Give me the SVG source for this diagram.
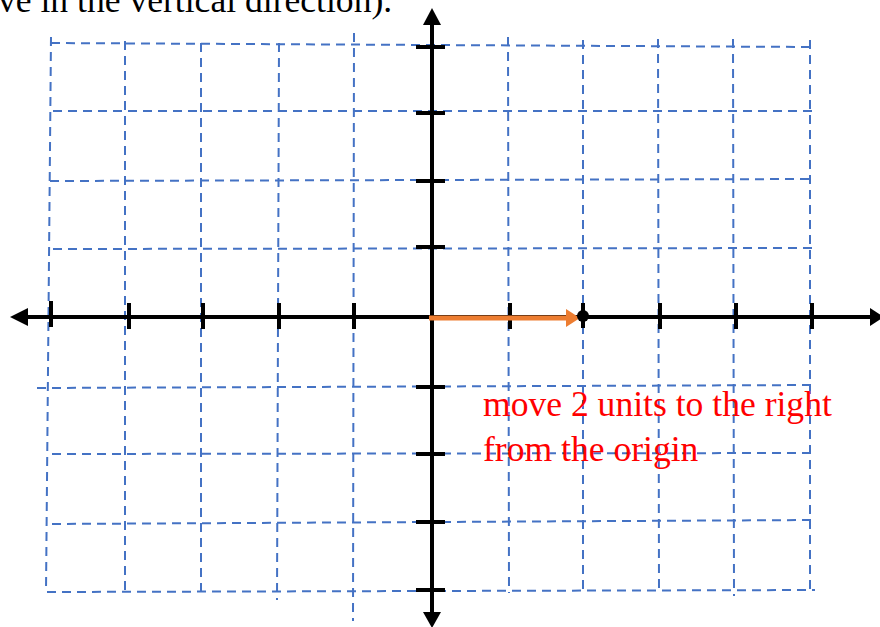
<svg xmlns="http://www.w3.org/2000/svg" width="880" height="627" viewBox="0 0 880 627">
<style>
.grid line{stroke:#4472C4;stroke-width:2;stroke-dasharray:9 6;fill:none}
.axis{stroke:#000;stroke-width:4;fill:none}
.tick{stroke:#000;stroke-width:4}
.head{fill:#000}
.serif{font-family:"Liberation Serif","Times New Roman",serif;font-size:35.6px}
</style>
<rect width="880" height="627" fill="#fff"/>
<text class="serif" x="-2" y="12" fill="#000">ve in the vertical direction).</text>
<g id="grid" class="grid">
<line x1="51" y1="37" x2="46" y2="592"/>
<line x1="125" y1="41" x2="125" y2="595"/>
<line x1="201" y1="43" x2="201" y2="598"/>
<line x1="279" y1="43" x2="277" y2="600"/>
<line x1="354" y1="33" x2="353" y2="621"/>
<line x1="508" y1="37" x2="509" y2="593"/>
<line x1="583" y1="40" x2="583" y2="594"/>
<line x1="658" y1="39" x2="659" y2="593"/>
<line x1="733" y1="39" x2="734" y2="596"/>
<line x1="810" y1="40" x2="810" y2="592"/>
<line x1="51" y1="43" x2="812" y2="47"/>
<line x1="53" y1="111" x2="812" y2="111"/>
<line x1="50" y1="181" x2="812" y2="179"/>
<line x1="53" y1="249" x2="815" y2="248"/>
<line x1="37" y1="388" x2="815" y2="385"/>
<line x1="52" y1="454" x2="815" y2="453"/>
<line x1="52" y1="524" x2="815" y2="520"/>
<line x1="47" y1="592" x2="815" y2="590"/>
</g>
<g id="axes">
<line class="axis" x1="22" y1="317" x2="874" y2="317"/>
<polygon class="head" points="10,317 28,308 28,326"/>
<polygon class="head" points="884,317 870,308 870,326"/>
<line class="axis" x1="432" y1="20" x2="432" y2="616"/>
<polygon class="head" points="432,8 423,25 441,25"/>
<polygon class="head" points="432,628 423,612 441,612"/>
</g>
<g id="xticks" class="tick">
<line x1="51" y1="301" x2="51" y2="327"/>
<line x1="129" y1="303" x2="129" y2="329"/>
<line x1="203" y1="303" x2="203" y2="329"/>
<line x1="279" y1="303" x2="279" y2="329"/>
<line x1="354" y1="303" x2="354" y2="329"/>
<line x1="510" y1="303" x2="510" y2="329"/>
<line x1="583" y1="303" x2="583" y2="328"/>
<line x1="660" y1="303" x2="660" y2="329"/>
<line x1="736" y1="303" x2="736" y2="329"/>
<line x1="812" y1="303" x2="812" y2="329"/>
</g>
<g id="yticks" class="tick">
<line x1="416" y1="47" x2="445" y2="47"/>
<line x1="416" y1="113" x2="445" y2="113"/>
<line x1="416" y1="181" x2="445" y2="181"/>
<line x1="416" y1="247" x2="445" y2="247"/>
<line x1="416" y1="387" x2="445" y2="387"/>
<line x1="416" y1="454" x2="445" y2="454"/>
<line x1="416" y1="522" x2="445" y2="522"/>
<line x1="416" y1="590" x2="445" y2="590"/>
</g>
<g id="move-arrow">
<line x1="429" y1="318" x2="569" y2="318" stroke="#ED7D31" stroke-width="5"/>
<polygon points="566,309 580,318 566,327" fill="#ED7D31"/>
</g>
<g id="point">
<circle cx="583" cy="316" r="6" fill="#000"/>
</g>
<g id="label">
<text class="serif" fill="#FF0000"><tspan x="483" y="416">move 2 units to the right</tspan><tspan x="483" y="461">from the origin</tspan></text>
</g>
</svg>
